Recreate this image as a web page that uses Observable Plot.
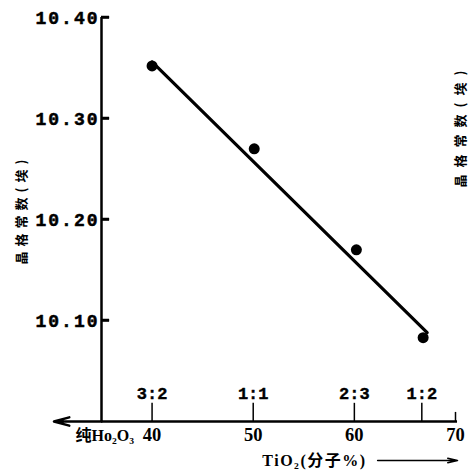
<!DOCTYPE html>
<html><head><meta charset="utf-8">
<script src="https://cdn.jsdelivr.net/npm/d3@7"></script>
<script src="https://cdn.jsdelivr.net/npm/@observablehq/plot@0.6"></script>
<style>
body{margin:0;background:#fff;}
</style></head><body><div id="chart"></div>
<script>
// measured data (TiO2 mol %, lattice constant Å)
const tio2 = [40, 50.1, 60.2, 66.8];
const latticeA = [10.352, 10.270, 10.170, 10.083];
// fitted straight line end points as drawn
const fitX = [40, 67.2];
const fitY = [10.356, 10.088];
// axes
const yTicks = [10.10, 10.20, 10.30, 10.40];
const xTicks = [40, 50, 60, 70];
const ratioLabels = ["3:2", "1:1", "2:3", "1:2"];
const ratioX = [40, 50, 60, 66.67];
const yLabel = "晶格常数(埃)";
const xLabel = "TiO₂(分子%)";
const leftLabel = "纯Ho₂O₃";

const xDomain = [35, 70];
const yDomain = [10.0, 10.4];

const points = tio2.map((x, i) => ({x, y: latticeA[i]}));
const fit = fitX.map((x, i) => ({x, y: fitY[i]}));
const ratios = ratioLabels.map((t, i) => ({t, x: ratioX[i]}));

const plot = Plot.plot({
  width: 468, height: 475,
  marginLeft: 101, marginRight: 13, marginTop: 17, marginBottom: 54,
  x: {domain: xDomain, axis: null},
  y: {domain: yDomain, axis: null},
  marks: [
    // y axis line and inward ticks
    Plot.ruleX([xDomain[0]], {y1: yDomain[0], y2: yDomain[1], strokeWidth: 2.5}),
    Plot.ruleY(yTicks, {x1: 35, x2: 35.8, stroke: "black", strokeWidth: 2.5}),
    Plot.text(yTicks, {x: xDomain[0], y: d => d, text: d => d.toFixed(2), textAnchor: "end", dx: -2, dy: 1,
      fontFamily: "Liberation Mono", fontWeight: "bold", fontSize: 18, fill: "black", stroke: "black", strokeWidth: 0.5}),
    // x axis line + left arrow
    Plot.ruleY([yDomain[0]], {x1: xDomain[0], x2: 70.2, strokeWidth: 2.5}),
    Plot.arrow([0], {x1: xDomain[0], x2: 30.3, y1: yDomain[0], y2: yDomain[0], strokeWidth: 2.5, headLength: 12, headAngle: 30}),
    // composition ratio ticks and labels
    Plot.ruleX(ratios, {x: "x", y1: yDomain[0], y2: 10.018, strokeWidth: 1.5}),
    Plot.ruleX([70], {y1: yDomain[0], y2: 10.009, strokeWidth: 1.5}),
    Plot.text(ratios, {x: "x", y: yDomain[0], text: "t", dy: -28,
      fontFamily: "Liberation Mono", fontWeight: "bold", fontSize: 17, fill: "black", stroke: "black", strokeWidth: 0.4}),
    // x tick labels
    Plot.text(xTicks, {x: d => d, y: yDomain[0], text: d => String(d), dy: 14,
      fontFamily: "Liberation Serif", fontWeight: "bold", fontSize: 18.5}),
    Plot.text([leftLabel], {x: 40, y: yDomain[0], text: d => d, textAnchor: "end", dx: -18, dy: 14,
      fontFamily: "Liberation Serif, Noto Sans CJK SC", fontWeight: "bold", fontSize: 16}),
    // x title with arrow
    Plot.text([xLabel], {x: 50.9, y: yDomain[0], text: d => d, textAnchor: "start", dy: 39,
      fontFamily: "Liberation Serif, Noto Sans CJK SC", fontWeight: "bold", fontSize: 16}),
    Plot.arrow([0], {x1: 62.3, x2: 70.2, y1: yDomain[0], y2: yDomain[0], dy: 39, strokeWidth: 1.5, headLength: 10, headAngle: 25}),
    // y titles (left and right)
    Plot.text([yLabel], {frameAnchor: "left", textAnchor: "middle", text: d => d, rotate: -90, dx: -80, dy: -10,
      fontFamily: "Noto Sans CJK SC", fontWeight: "bold", fontSize: 13}),
    Plot.text([yLabel], {frameAnchor: "right", textAnchor: "middle", text: d => d, rotate: -90, dx: 5, dy: -94,
      fontFamily: "Noto Sans CJK SC", fontWeight: "bold", fontSize: 13}),
    // fitted line and data points
    Plot.line(fit, {x: "x", y: "y", strokeWidth: 3.2}),
    Plot.dot(points, {x: "x", y: "y", r: 5.5, fill: "black", stroke: "none"})
  ]
});
const sel = d3.select(plot);
const yl = sel.selectAll("text").filter(function () { return this.textContent === yLabel; });
yl.each(function (d, i) { d3.select(this).style("letter-spacing", i === 0 ? "5px" : "7px"); });
sel.selectAll("text").filter(function () { return /^10\.\d0$/.test(this.textContent); }).style("letter-spacing", "2px");
sel.selectAll("text").filter(function () { return this.textContent === xLabel; }).style("letter-spacing", "1.5px");
// reinforce the inward y ticks using Plot's own scales
const sx = plot.scale("x"), sy = plot.scale("y");
sel.append("g").attr("stroke", "black").attr("stroke-width", 2.5)
  .selectAll("line").data(yTicks).join("line")
  .attr("x1", sx.apply(xDomain[0])).attr("x2", sx.apply(35.8))
  .attr("y1", d => sy.apply(d)).attr("y2", d => sy.apply(d));
document.getElementById("chart").appendChild(plot);
</script>
</body></html>
